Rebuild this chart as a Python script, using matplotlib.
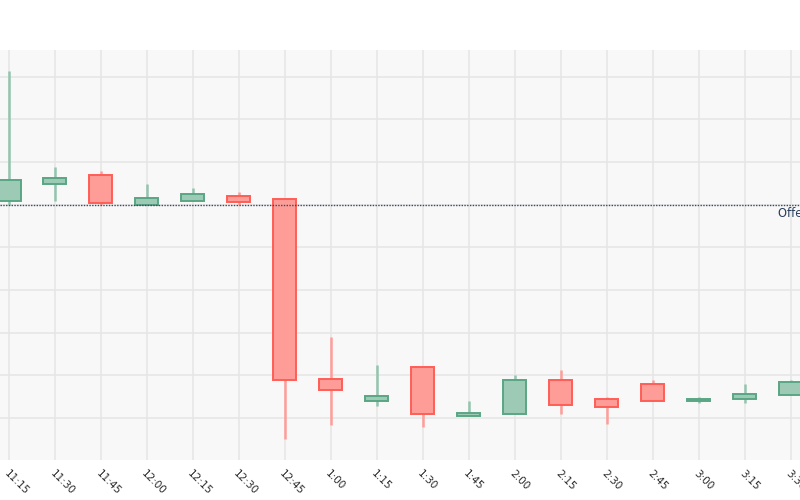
import matplotlib.pyplot as plt
from matplotlib.transforms import ScaledTranslation

times = ["11:15", "11:30", "11:45", "12:00", "12:15", "12:30", "12:45", "1:00", "1:15",
         "1:30", "1:45", "2:00", "2:15", "2:30", "2:45", "3:00", "3:15", "3:30"]
opens = [15.09, 15.48, 15.69, 15.00, 15.09, 15.20, 15.14, 10.91, 10.39,
         11.20, 10.04, 10.09, 10.90, 10.45, 10.80, 10.39, 10.45, 10.55]
highs = [18.14, 15.88, 15.78, 15.48, 15.39, 15.29, 15.14, 11.90, 11.24,
         11.20, 10.40, 11.00, 11.13, 10.49, 10.89, 10.49, 10.80, 10.89]
lows = [15.00, 15.09, 14.99, 15.00, 15.09, 15.00, 9.51, 9.84, 10.27,
        9.80, 10.04, 10.09, 10.10, 9.85, 10.40, 10.35, 10.35, 10.55]
closes = [15.58, 15.62, 15.04, 15.15, 15.24, 15.06, 10.90, 10.65, 10.51,
          10.10, 10.11, 10.90, 10.30, 10.25, 10.40, 10.45, 10.56, 10.85]
offering_price = 15.0

up_fill, up_edge, up_wick = "#9dcab4", "#5aa584", "#93c5ae"
dn_fill, dn_edge, dn_wick = "#fe9d98", "#ff5e56", "#ff9d98"

fig = plt.figure(figsize=(8, 5), dpi=100)
ax = fig.add_axes([0, 0.08, 1, 0.82])
ax.set_facecolor("#f8f8f8")

x = list(range(len(times)))
for i in x:
    o, h, l, c = opens[i], highs[i], lows[i], closes[i]
    up = c >= o
    ax.vlines(i, l, h, color=up_wick if up else dn_wick, linewidth=1.8, zorder=2)
    ax.bar(i, max(abs(c - o), 0.03), bottom=min(o, c), width=0.5,
           color=up_fill if up else dn_fill,
           edgecolor=up_edge if up else dn_edge, linewidth=1.4, zorder=3)

# offering price reference line
ax.axhline(offering_price, color="#3b4a5e", linestyle=(0, (1, 1)), linewidth=1, zorder=4)
ax.annotate("Offering Price", xy=(16.72, offering_price), xytext=(0, -2),
            textcoords="offset points", ha="left", va="top",
            fontsize=8.3, color="#2a3f5f", family="DejaVu Sans", annotation_clip=False)

ax.set_xlim(-0.196, 17.203)
ax.set_ylim(9.016, 18.624)
ax.set_xticks(x)
ax.set_xticklabels(times, rotation=-45, ha="left", va="top", rotation_mode="anchor",
                   fontsize=7.5, color="#2a2a2a", family="DejaVu Sans")
shift = ScaledTranslation(2 / 100, 0, fig.dpi_scale_trans)
for lbl in ax.get_xticklabels():
    lbl.set_transform(lbl.get_transform() + shift)
ax.set_yticks(range(10, 19))
ax.set_yticklabels([])
ax.tick_params(length=0, pad=5.8)
ax.grid(True, color="#e6e6e6", linewidth=1.2, zorder=0)
ax.set_axisbelow(True)
for s in ax.spines.values():
    s.set_visible(False)

fig.savefig("out.png", dpi=100)
